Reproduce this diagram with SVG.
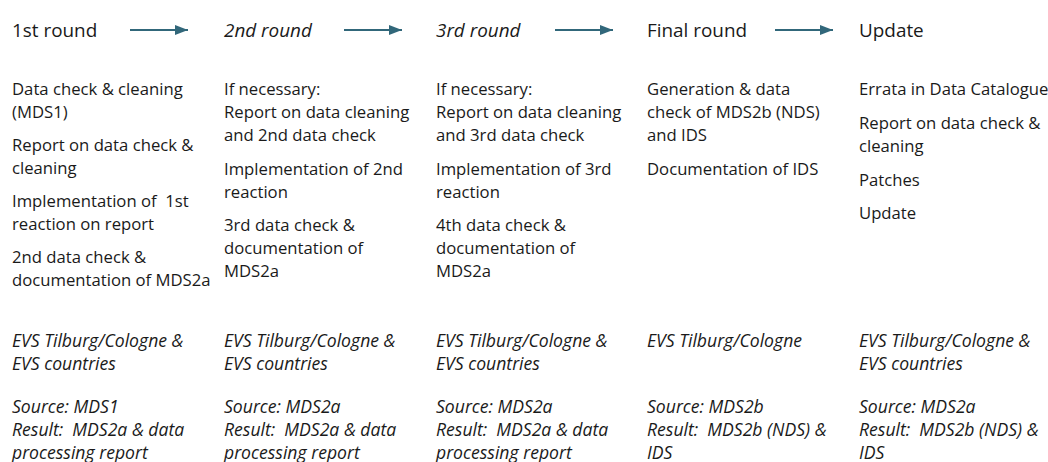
<svg xmlns="http://www.w3.org/2000/svg" width="1048" height="462" viewBox="0 0 1048 462">
<defs>
<style>
text{font-family:"Open Sans","Noto Sans","Liberation Sans",sans-serif;fill:#1a1a1a;font-size:16.7px}
.h{font-size:18.9px}
.i{font-style:italic}
text.i{font-size:17.6px}
.c{stroke:#31677a;stroke-width:2;fill:none}
</style>
<marker id="ah" markerWidth="13" markerHeight="10" refX="13" refY="5" orient="auto" markerUnits="userSpaceOnUse">
<path d="M0,0 L13,5 L0,10 Z" fill="#31677a"/>
</marker>
</defs>
<rect width="1048" height="462" fill="#ffffff"/>
<g id="connectors">
<line class="c" x1="130" y1="30" x2="188" y2="30" marker-end="url(#ah)"/>
<line class="c" x1="344" y1="30" x2="402" y2="30" marker-end="url(#ah)"/>
<line class="c" x1="555" y1="30" x2="613" y2="30" marker-end="url(#ah)"/>
<line class="c" x1="775" y1="30" x2="833" y2="30" marker-end="url(#ah)"/>
</g>
<g id="round1">
<text class="h" x="12" y="37">1st round</text>
<text x="12" xml:space="preserve"><tspan x="12" y="95">Data check &amp; cleaning</tspan><tspan x="12" y="118">(MDS1)</tspan><tspan x="12" y="151">Report on data check &amp;</tspan><tspan x="12" y="174">cleaning</tspan><tspan x="12" y="207">Implementation of  1st</tspan><tspan x="12" y="230">reaction on report</tspan><tspan x="12" y="263">2nd data check &amp;</tspan><tspan x="12" y="286">documentation of MDS2a</tspan></text>
<text class="i h2" x="12" xml:space="preserve"><tspan x="12" y="347">EVS Tilburg/Cologne &amp;</tspan><tspan x="12" y="370">EVS countries</tspan><tspan x="12" y="413">Source: MDS1</tspan><tspan x="12" y="436">Result:  MDS2a &amp; data</tspan><tspan x="12" y="459">processing report</tspan></text>
</g>
<g id="round2">
<text class="h" font-style="italic" x="224" y="37">2nd round</text>
<text x="224"><tspan x="224" y="95">If necessary:</tspan><tspan x="224" y="118">Report on data cleaning</tspan><tspan x="224" y="141">and 2nd data check</tspan><tspan x="224" y="175">Implementation of 2nd</tspan><tspan x="224" y="198">reaction</tspan><tspan x="224" y="231">3rd data check &amp;</tspan><tspan x="224" y="254">documentation of</tspan><tspan x="224" y="277">MDS2a</tspan></text>
<text class="i" x="224" xml:space="preserve"><tspan x="224" y="347">EVS Tilburg/Cologne &amp;</tspan><tspan x="224" y="370">EVS countries</tspan><tspan x="224" y="413">Source: MDS2a</tspan><tspan x="224" y="436">Result:  MDS2a &amp; data</tspan><tspan x="224" y="459">processing report</tspan></text>
</g>
<g id="round3">
<text class="h" font-style="italic" x="436" y="37">3rd round</text>
<text x="436"><tspan x="436" y="95">If necessary:</tspan><tspan x="436" y="118">Report on data cleaning</tspan><tspan x="436" y="141">and 3rd data check</tspan><tspan x="436" y="175">Implementation of 3rd</tspan><tspan x="436" y="198">reaction</tspan><tspan x="436" y="231">4th data check &amp;</tspan><tspan x="436" y="254">documentation of</tspan><tspan x="436" y="277">MDS2a</tspan></text>
<text class="i" x="436" xml:space="preserve"><tspan x="436" y="347">EVS Tilburg/Cologne &amp;</tspan><tspan x="436" y="370">EVS countries</tspan><tspan x="436" y="413">Source: MDS2a</tspan><tspan x="436" y="436">Result:  MDS2a &amp; data</tspan><tspan x="436" y="459">processing report</tspan></text>
</g>
<g id="final">
<text class="h" x="647" y="37">Final round</text>
<text x="647"><tspan x="647" y="95">Generation &amp; data</tspan><tspan x="647" y="118">check of MDS2b (NDS)</tspan><tspan x="647" y="141">and IDS</tspan><tspan x="647" y="175">Documentation of IDS</tspan></text>
<text class="i" x="647" xml:space="preserve"><tspan x="647" y="347">EVS Tilburg/Cologne</tspan><tspan x="647" y="413">Source: MDS2b</tspan><tspan x="647" y="436">Result:  MDS2b (NDS) &amp;</tspan><tspan x="647" y="459">IDS</tspan></text>
</g>
<g id="update">
<text class="h" x="859" y="37">Update</text>
<text x="859"><tspan x="859" y="95">Errata in Data Catalogue</tspan><tspan x="859" y="129">Report on data check &amp;</tspan><tspan x="859" y="152">cleaning</tspan><tspan x="859" y="186">Patches</tspan><tspan x="859" y="219">Update</tspan></text>
<text class="i" x="859" xml:space="preserve"><tspan x="859" y="347">EVS Tilburg/Cologne &amp;</tspan><tspan x="859" y="370">EVS countries</tspan><tspan x="859" y="413">Source: MDS2a</tspan><tspan x="859" y="436">Result:  MDS2b (NDS) &amp;</tspan><tspan x="859" y="459">IDS</tspan></text>
</g>
</svg>
